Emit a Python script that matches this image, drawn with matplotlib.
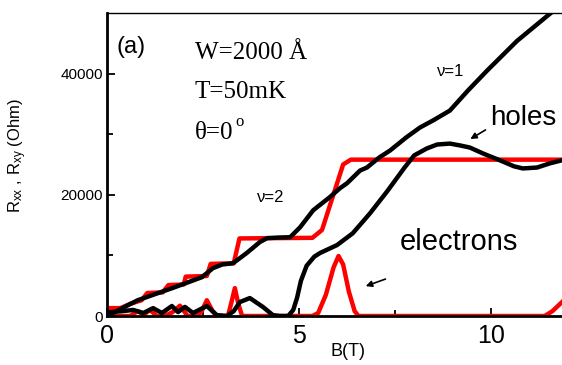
import numpy as np
import matplotlib
matplotlib.use("Agg")
import matplotlib.pyplot as plt

plt.rcParams['font.family'] = ['Liberation Sans', 'DejaVu Sans']
plt.rcParams['mathtext.fontset'] = 'custom'
plt.rcParams['mathtext.rm'] = 'Liberation Sans'
plt.rcParams['mathtext.it'] = 'Liberation Sans:italic'

# hole sample, Hall resistance (black, upper)
b_hxy = [0, 0.8, 1.7, 2.47, 2.76, 3.0, 3.28, 3.64, 3.98, 4.17, 4.5, 4.77, 5.03, 5.37,
         5.8, 6.07, 6.25, 6.59, 6.77, 7.1, 7.37, 7.8, 8.15, 8.5, 8.93, 9.4, 9.9,
         10.68, 11.54, 11.85]
r_hxy = [0, 2600, 4600, 6400, 7900, 8500, 8700, 10400, 12200, 12850, 12950, 13000,
         14650, 17450, 19600, 21100, 21900, 24000, 24500, 26200, 27300, 29500,
         31100, 32300, 33900, 37200, 40500, 45400, 49900, 51500]

# hole sample, longitudinal resistance (black, lower)
b_hxx = [0, 0.4, 0.68, 0.95, 1.2, 1.43, 1.69, 1.85, 2.03, 2.24, 2.6, 2.86, 3.12, 3.3,
         3.46, 3.72, 4.06, 4.32, 4.5, 4.72, 4.85, 4.95, 5.05, 5.2, 5.4, 5.55, 5.99,
         6.4, 6.85, 7.3, 7.75, 8.0, 8.33, 8.6, 8.93, 9.19, 9.45, 9.8, 10.23, 10.6,
         10.83, 11.2, 11.54, 11.85]
r_hxx = [600, 800, 1000, 500, 1300, 500, 1650, 650, 1500, 500, 1650, 150, 0, 800,
         2300, 2960, 1500, 150, 0, 0, 1000, 3000, 5800, 8300, 9800, 10400, 11700,
         13650, 16950, 20600, 24500, 26500, 27650, 28300, 28450, 28150, 27800, 26800,
         25700, 24700, 24350, 24500, 25200, 25700]

# electron sample, Hall resistance (red staircase)
b_exy = [0, 0.35, 0.6, 0.9, 1.05, 1.45, 1.6, 2.0, 2.05, 2.6, 2.7, 3.3, 3.45, 5.35,
         5.6, 6.15, 6.35, 11.85]
r_exy = [1300, 1300, 2000, 2600, 3800, 3900, 5100, 5200, 6500, 6600, 8600, 8700,
         12800, 12900, 14200, 25000, 25800, 25800]

# electron sample, longitudinal resistance (red peaks)
b_exx = [0, 0.6, 0.8, 0.95, 1.12, 1.3, 1.5, 1.7, 1.9, 2.1, 2.3, 2.45, 2.6, 2.75,
         2.86, 3.15, 3.25, 3.33, 3.42, 3.52, 5.35, 5.5, 5.7, 5.9, 6.03, 6.15, 6.3,
         6.45, 6.55, 11.4, 11.6, 11.85]
r_exx = [0, 0, 800, 200, 1000, 0, 0, 600, 1700, 0, 0, 600, 2600, 800, 0, 0, 2500,
         4600, 2000, 0, 0, 500, 3500, 8000, 9900, 8500, 4000, 800, 0, 0, 800, 2300]

fig = plt.figure(figsize=(5.62, 3.65), dpi=100)
ax = fig.add_axes([107/562, 1-316/365, 1-107/562, (316-13)/365])

ax.plot(b_exy, r_exy, color='#ff0000', lw=3.2)
ax.plot(b_exx, r_exx, color='#ff0000', lw=3.2)
ax.plot(b_hxy, r_hxy, color='black', lw=3.2)
ax.plot(b_hxx, r_hxx, color='black', lw=3.2)

ax.set_xlim(0, 11.85)
ax.set_ylim(0, 50000)
ax.set_xticks([0, 5, 10])
ax.set_xticks([2.5, 7.5], minor=True)
ax.set_yticks([0, 20000, 40000])
ax.set_yticks([10000, 30000], minor=True)
ax.tick_params(axis='both', which='both', direction='in', width=1.3)
ax.tick_params(which='major', length=6)
ax.tick_params(which='minor', length=4)
ax.tick_params(axis='x', labelsize=18, pad=6)
ax.tick_params(axis='y', labelsize=11, pad=3)
ax.spines['right'].set_visible(False)
ax.spines['left'].set_linewidth(2)
ax.spines['bottom'].set_linewidth(2)
ax.spines['top'].set_linewidth(1)

ax.set_xlabel('B(T)', fontsize=13)
ax.xaxis.set_label_coords(0.53, -0.09)
ax.set_ylabel(r'R$_{\mathrm{xx}}$ , R$_{\mathrm{xy}}$ (Ohm)', fontsize=12)
ax.yaxis.set_label_coords(-0.172, 0.53)

ax.text(0.26, 43450, '(a)', fontsize=17, va='baseline')
serif = dict(fontsize=18, va='baseline', fontfamily='Liberation Serif')
ax.text(2.29, 42470, 'W=2000 Å', **serif)
ax.text(2.29, 36050, 'T=50mK', **serif)
ax.text(2.29, 29130, 'θ=0', **serif)
ax.text(3.34, 31300, 'o', fontsize=12, va='baseline', fontfamily='Liberation Serif')
ax.text(8.6, 39670, 'ν=1', fontsize=12, va='baseline')
ax.text(3.9, 18760, 'ν=2', fontsize=12, va='baseline')
ax.text(9.97, 31440, 'holes', fontsize=20, va='baseline')
ax.text(7.63, 10860, 'electrons', fontsize=21, va='baseline')

arrow = dict(arrowstyle='-|>', color='black', lw=1.2, mutation_scale=9)
ax.annotate('', xy=(9.4, 28970), xytext=(9.92, 30940), arrowprops=arrow)
ax.annotate('', xy=(6.67, 4770), xytext=(7.32, 6250), arrowprops=arrow)

fig.savefig('out.png', dpi=100)
